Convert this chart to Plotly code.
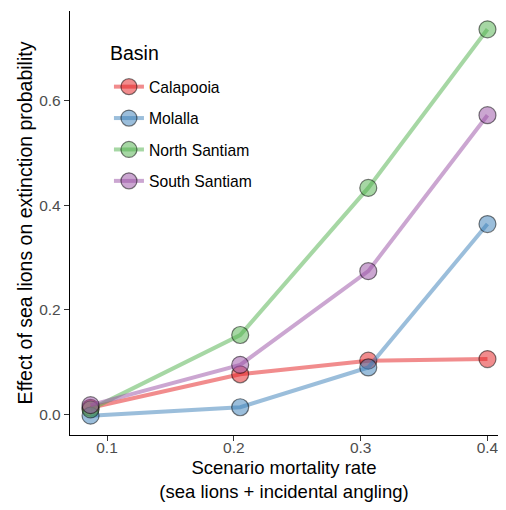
import plotly.graph_objects as go

basins = ["Calapooia", "Molalla", "North Santiam", "South Santiam"]
mortality = [0.087, 0.205, 0.306, 0.4]
effect = {
    "Calapooia": [0.013, 0.077, 0.103, 0.106],
    "Molalla": [-0.002, 0.014, 0.090, 0.364],
    "North Santiam": [0.010, 0.152, 0.433, 0.736],
    "South Santiam": [0.018, 0.095, 0.274, 0.572],
}
colors = {
    "Calapooia": "rgba(228,26,28,0.5)",
    "Molalla": "rgba(55,126,184,0.5)",
    "North Santiam": "rgba(77,175,74,0.5)",
    "South Santiam": "rgba(152,78,163,0.5)",
}
x_ticks = [0.1, 0.2, 0.3, 0.4]
y_ticks = [0.0, 0.2, 0.4, 0.6]

FONT = "Liberation Sans, Arial, Helvetica, sans-serif"

fig = go.Figure()
for b in basins:
    fig.add_trace(go.Scatter(
        x=mortality, y=effect[b], name=b, mode="lines+markers",
        legendgroup=b,
        line=dict(color=colors[b], width=4),
        marker=dict(size=17, color=colors[b],
                    line=dict(color="rgba(0,0,0,0.5)", width=1.2)),
    ))

fig.add_annotation(
    text="Basin", xref="paper", yref="paper", x=0.089, y=0.901,
    xanchor="left", yanchor="middle", showarrow=False,
    font=dict(size=19.5, color="black"),
)

fig.update_layout(
    width=490, height=494,
    margin=dict(l=62, r=0, t=3, b=67),
    paper_bgcolor="white", plot_bgcolor="white",
    font=dict(family=FONT, color="black"),
    showlegend=True,
    legend=dict(
        x=0.091, y=0.861, xanchor="left", yanchor="top",
        font=dict(size=15.7, color="black"),
        tracegroupgap=8,
        bgcolor="rgba(0,0,0,0)",
    ),
    xaxis=dict(
        range=[0.0708, 0.4083], tickvals=x_ticks,
        ticktext=[str(v) for v in x_ticks],
        showgrid=False, zeroline=False,
        showline=True, linecolor="black", linewidth=1.4,
        ticks="outside", ticklen=5, tickcolor="#333333", tickwidth=1.2,
        tickfont=dict(size=15.5, color="#4D4D4D"),
        ticklabeloverflow="allow",
        ticklabelstandoff=-7,
        title=dict(text="Scenario mortality rate<br>(sea lions + incidental angling)",
                   font=dict(size=18.5, color="black"), standoff=6),
    ),
    yaxis=dict(
        range=[-0.039, 0.771], tickvals=y_ticks,
        ticktext=["0.0", "0.2", "0.4", "0.6"],
        showgrid=False, zeroline=False,
        showline=True, linecolor="black", linewidth=1.4,
        ticks="outside", ticklen=5, tickcolor="#333333", tickwidth=1.2,
        tickfont=dict(size=15.5, color="#4D4D4D"),
        title=dict(text="Effect of sea lions on extinction probability",
                   font=dict(size=19.5, color="black"), standoff=1),
    ),
)

fig.write_html("out.html")
